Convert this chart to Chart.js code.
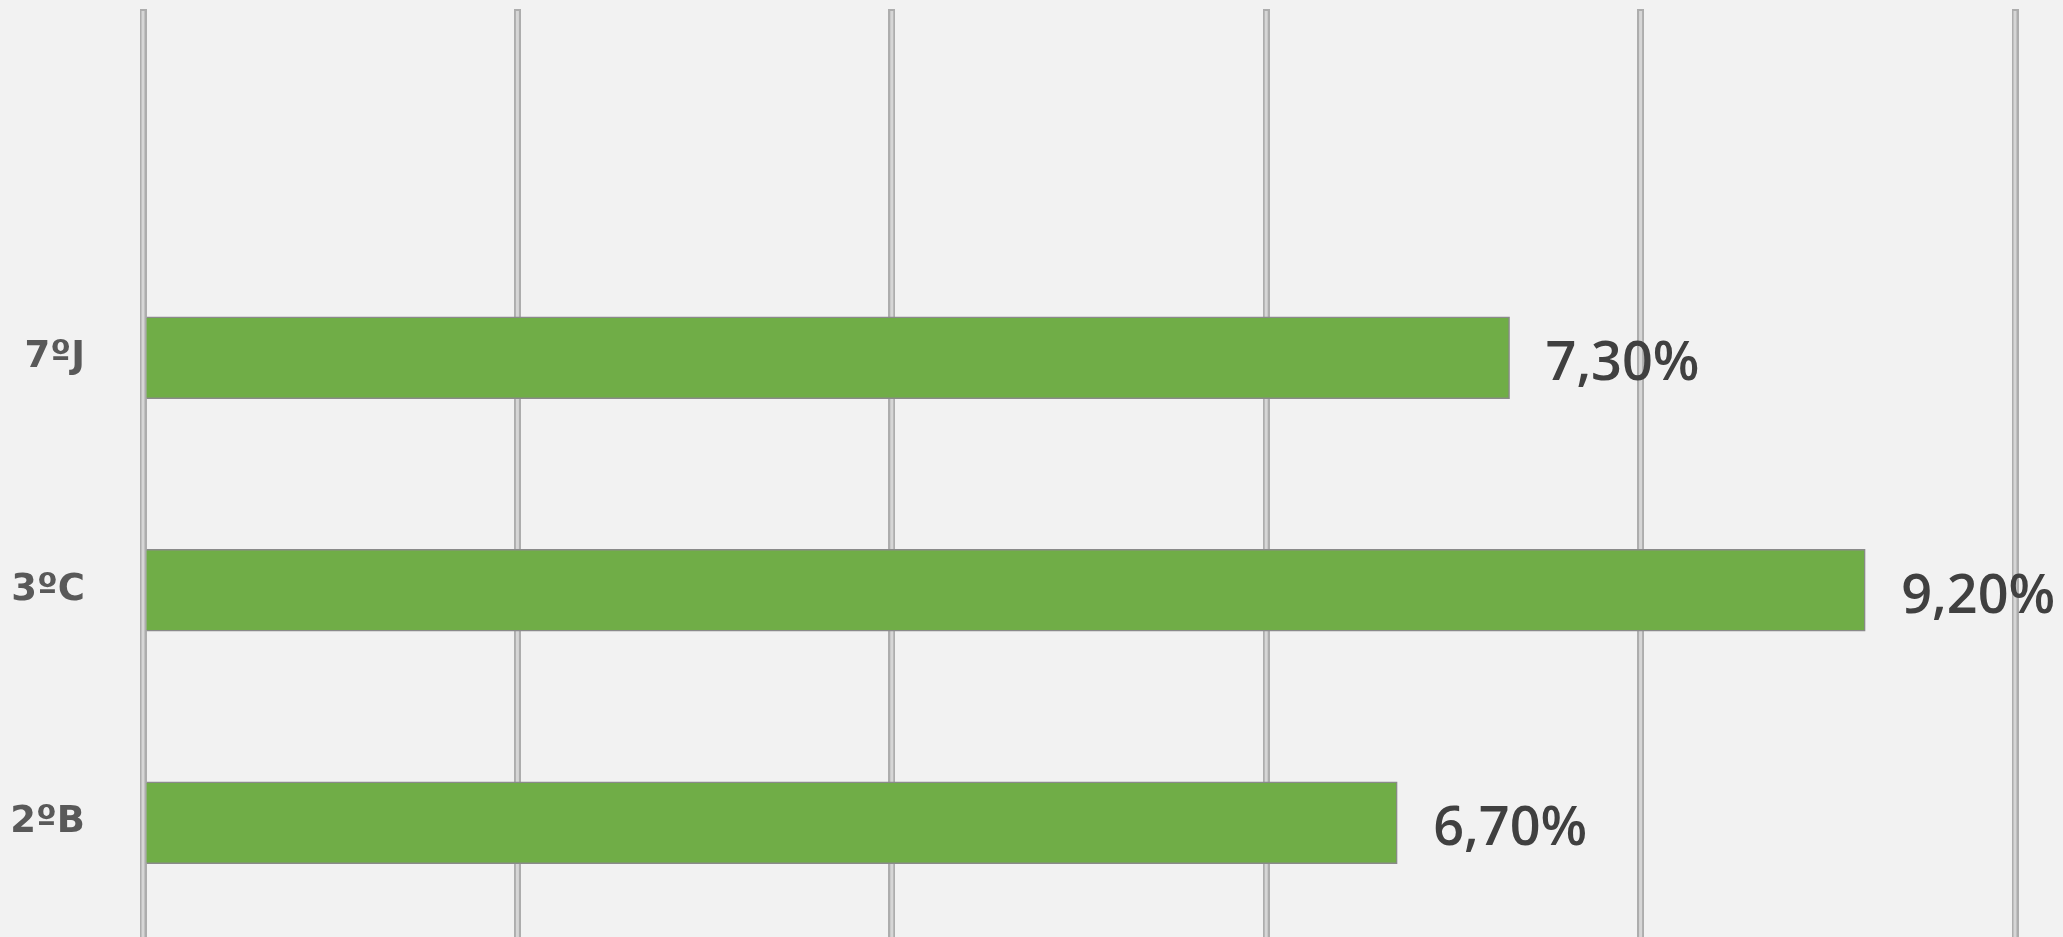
<!DOCTYPE html>
<html>
<head>
<meta charset="utf-8">
<script src="https://cdn.jsdelivr.net/npm/chart.js@4"></script>
<style>
    html, body { margin: 0; padding: 0; background: #f2f2f2; overflow: hidden; }
    canvas { display: block; }
</style>
</head>
<body>
<canvas id="chart" width="2063" height="940"></canvas>
<script>
// categories (top slot is empty in the original)
const categories = ['', '7ºJ', '3ºC', '2ºB'];
const values = [null, 7.3, 9.2, 6.7];
const valueLabels = ['', '7,30%', '9,20%', '6,70%'];
const xTicks = [0, 2, 4, 6, 8, 10];

// draws the light centre of each gridline, over the darker outer line
const gridInner = {
    id: 'gridInner',
    beforeDatasetsDraw(chart) {
        const ctx = chart.ctx;
        const x = chart.scales.x;
        const area = chart.chartArea;
        ctx.save();
        ctx.strokeStyle = '#d6d6d6';
        ctx.lineWidth = 3;
        xTicks.forEach(t => {
            const px = x.getPixelForValue(t);
            ctx.beginPath();
            ctx.moveTo(px, area.top + 2);
            ctx.lineTo(px, area.bottom);
            ctx.stroke();
        });
        ctx.restore();
    }
};

// value labels to the right of the bars
const barLabels = {
    id: 'barLabels',
    afterDatasetsDraw(chart) {
        const ctx = chart.ctx;
        const meta = chart.getDatasetMeta(0);
        ctx.save();
        ctx.font = '600 54px "Open Sans"';
        ctx.fillStyle = '#404040';
        ctx.textAlign = 'left';
        ctx.textBaseline = 'middle';
        meta.data.forEach((bar, i) => {
            if (values[i] == null) return;
            ctx.fillText(valueLabels[i], bar.x + 36, bar.y + 7);
        });
        ctx.restore();
    }
};

new Chart(document.getElementById('chart'), {
    type: 'bar',
    data: {
        labels: categories,
        datasets: [{
            data: values,
            backgroundColor: '#70ad47',
            borderColor: '#8a8a8a',
            borderWidth: 1.5,
            borderSkipped: 'left',
            barThickness: 82
        }]
    },
    options: {
        indexAxis: 'y',
        responsive: false,
        animation: false,
        layout: { padding: { left: 0, right: 48, top: 9, bottom: 0 } },
        plugins: {
            legend: { display: false },
            tooltip: { enabled: false }
        },
        scales: {
            x: {
                min: 0,
                max: 10,
                ticks: { display: false, stepSize: 2 },
                grid: { color: '#adadad', lineWidth: 7, drawTicks: false },
                border: { display: false },
                afterFit(scale) {
                    scale.height = 1;
                    scale.paddingLeft = 0;
                    scale.paddingRight = 0;
                }
            },
            y: {
                grid: { display: false },
                border: { display: false },
                ticks: {
                    padding: 50,
                    color: '#595959',
                    font: { family: '"DejaVu Sans"', size: 37, weight: 'bold' }
                },
                afterFit(scale) {
                    scale.width = 143;
                    scale.paddingTop = 0;
                    scale.paddingBottom = 0;
                }
            }
        }
    },
    plugins: [gridInner, barLabels]
});
</script>
</body>
</html>
